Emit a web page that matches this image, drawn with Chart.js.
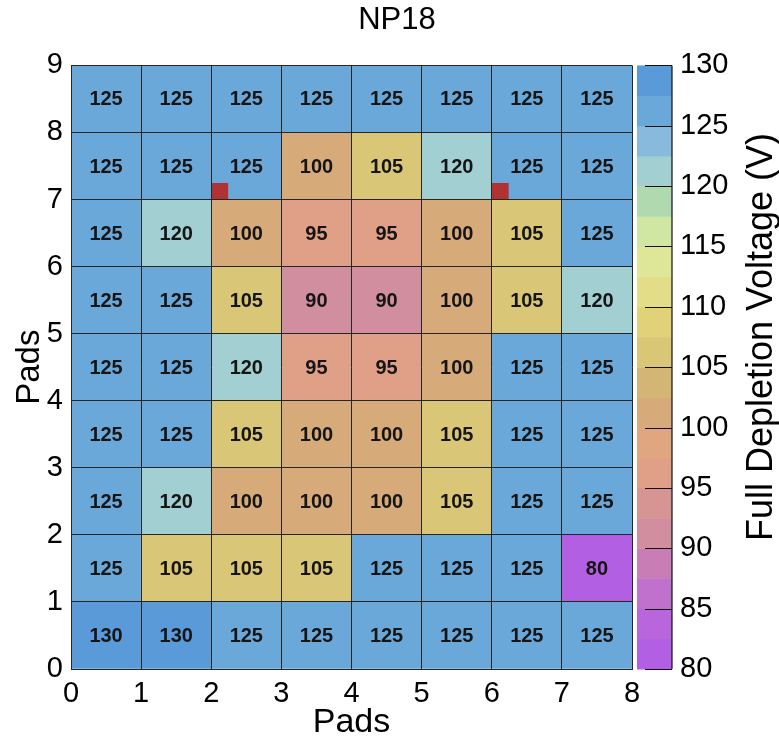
<!DOCTYPE html>
<html>
<head>
<meta charset="utf-8">
<script src="https://cdn.jsdelivr.net/npm/chart.js@4.4.0/dist/chart.umd.min.js"></script>
<style>
  html, body { margin: 0; padding: 0; background: #fff; }
  #wrap { width: 779px; height: 740px; }
</style>
</head>
<body>
<div id="wrap"><canvas id="map" width="779" height="740"></canvas></div>
<script>
// pad columns (centres) and pad rows (lower edges)
const padCols = [0.5, 1.5, 2.5, 3.5, 4.5, 5.5, 6.5, 7.5];
const padRows = [0, 1, 2, 3, 4, 5, 6, 7, 8];

// full depletion voltage (V), bottom row first
const fdv = [
  [130, 130, 125, 125, 125, 125, 125, 125],
  [125, 105, 105, 105, 125, 125, 125, 80],
  [125, 120, 100, 100, 100, 105, 125, 125],
  [125, 125, 105, 100, 100, 105, 125, 125],
  [125, 125, 120, 95, 95, 100, 125, 125],
  [125, 125, 105, 90, 90, 100, 105, 120],
  [125, 120, 100, 95, 95, 100, 105, 125],
  [125, 125, 125, 100, 105, 120, 125, 125],
  [125, 125, 125, 125, 125, 125, 125, 125]
];

// small red markers on two pads
const markerX = [2.12, 6.12];
const markerY = [7.12, 7.12];

// colour palette levels (V) and the colour of each band
const colorLevels = [80, 82.5, 85, 87.5, 90, 92.5, 95, 97.5, 100, 102.5, 105,
  107.5, 110, 112.5, 115, 117.5, 120, 122.5, 125, 127.5, 130];
const levelColors = [
  '#b35fe3', '#b966dc', '#c070cd', '#c87db5', '#d18e9e',
  '#d69593', '#e09f87', '#dfa67f', '#d7aa7a', '#d3b674',
  '#dac677', '#e1d27a', '#e3dd88', '#dee797', '#cfe7a2',
  '#b1d9b0', '#a2cfd2', '#88badd', '#6ba8da', '#5a9ad9'
];

const FONT = '"Liberation Sans", Arial, Helvetica, sans-serif';
Chart.defaults.font.family = FONT;
Chart.defaults.color = '#000';

function colorFor(v) {
  for (let i = levelColors.length - 1; i >= 0; i--) {
    if (v >= colorLevels[i]) return levelColors[i];
  }
  return levelColors[0];
}

const datasets = padRows.map((r, ri) => ({
  type: 'bar',
  order: 1,
  data: padCols.map(x => ({ x, y: [r, r + 1] })),
  backgroundColor: fdv[ri].map(colorFor),
  borderWidth: 0,
  grouped: false,
  barPercentage: 1,
  categoryPercentage: 1
}));

// markers go on top of the cells (lower order is drawn last)
datasets.push({
  type: 'scatter',
  order: 0,
  data: markerX.map((x, i) => ({ x, y: markerY[i] })),
  pointStyle: 'rect',
  pointRadius: 12,
  backgroundColor: '#b03232',
  borderWidth: 0
});

// cell values, colour bar, its title and the plot title
const overlay = {
  id: 'overlay',
  afterDatasetsDraw(chart) {
    const ctx = chart.ctx;
    const area = chart.chartArea;
    ctx.save();
    ctx.fillStyle = '#151515';
    ctx.font = 'bold 20px ' + FONT;
    ctx.textAlign = 'center';
    ctx.textBaseline = 'middle';
    padRows.forEach((r, ri) => {
      chart.getDatasetMeta(ri).data.forEach((bar, ci) => {
        ctx.fillText(String(fdv[ri][ci]), bar.x, (bar.y + bar.base) / 2 + 1);
      });
    });

    const vs = chart.scales.volt;
    const x0 = area.right + 5, x1 = area.right + 40;
    levelColors.forEach((c, i) => {
      const yTop = vs.getPixelForValue(colorLevels[i + 1]);
      const yBot = vs.getPixelForValue(colorLevels[i]);
      ctx.fillStyle = c;
      ctx.fillRect(x0, yTop, x1 - x0, yBot - yTop + 0.5);
    });
    ctx.strokeStyle = '#111';
    ctx.lineWidth = 1.2;
    ctx.beginPath();
    ctx.moveTo(x1, vs.top);
    ctx.lineTo(x1, vs.bottom);
    vs.ticks.forEach(t => {
      const y = Math.round(vs.getPixelForValue(t.value)) + 0.5;
      ctx.moveTo(x1 - 27, y);
      ctx.lineTo(x1, y);
    });
    ctx.stroke();

    ctx.fillStyle = '#000';
    ctx.save();
    ctx.translate(762, 337);
    ctx.rotate(-Math.PI / 2);
    ctx.font = '36px ' + FONT;
    ctx.fillText('Full Depletion Voltage (V)', 0, 0);
    ctx.restore();

    ctx.font = '31px ' + FONT;
    ctx.fillText('NP18', 397, 20);
    ctx.restore();
  }
};

const tickFont = { size: 29 };
const gridLines = { color: '#262626', lineWidth: 1, drawTicks: false, z: 1 };

new Chart(document.getElementById('map'), {
  type: 'bar',
  data: { datasets },
  options: {
    responsive: false,
    animation: false,
    events: [],
    layout: { padding: { top: 41, left: 0, right: 0, bottom: 0 } },
    plugins: { legend: { display: false }, tooltip: { enabled: false } },
    scales: {
      x: {
        type: 'linear', position: 'bottom', min: 0, max: 8, offset: false,
        afterFit: s => { s.height = 71; },
        grid: Object.assign({ offset: false }, gridLines),
        border: { color: '#262626', z: 1 },
        ticks: { stepSize: 1, font: tickFont, padding: 8, autoSkip: false, maxRotation: 0 },
        title: { display: true, text: 'Pads', font: { size: 34, lineHeight: 1 }, padding: { top: 0, bottom: 0 } }
      },
      y: {
        type: 'linear', min: 0, max: 9, beginAtZero: false,
        afterFit: s => { s.width = 71; },
        grid: gridLines,
        border: { color: '#262626', z: 1 },
        ticks: { stepSize: 1, font: tickFont, padding: 8, autoSkip: false },
        title: { display: true, text: 'Pads', font: { size: 33, lineHeight: 1 }, padding: { top: 13, bottom: 0 } }
      },
      volt: {
        axis: 'y', type: 'linear', position: 'right', min: 80, max: 130,
        afterFit: s => { s.width = 147; },
        grid: { display: false, drawTicks: false },
        border: { display: false },
        ticks: { stepSize: 5, font: tickFont, padding: 48, autoSkip: false }
      }
    }
  },
  plugins: [overlay]
});
</script>
</body>
</html>
